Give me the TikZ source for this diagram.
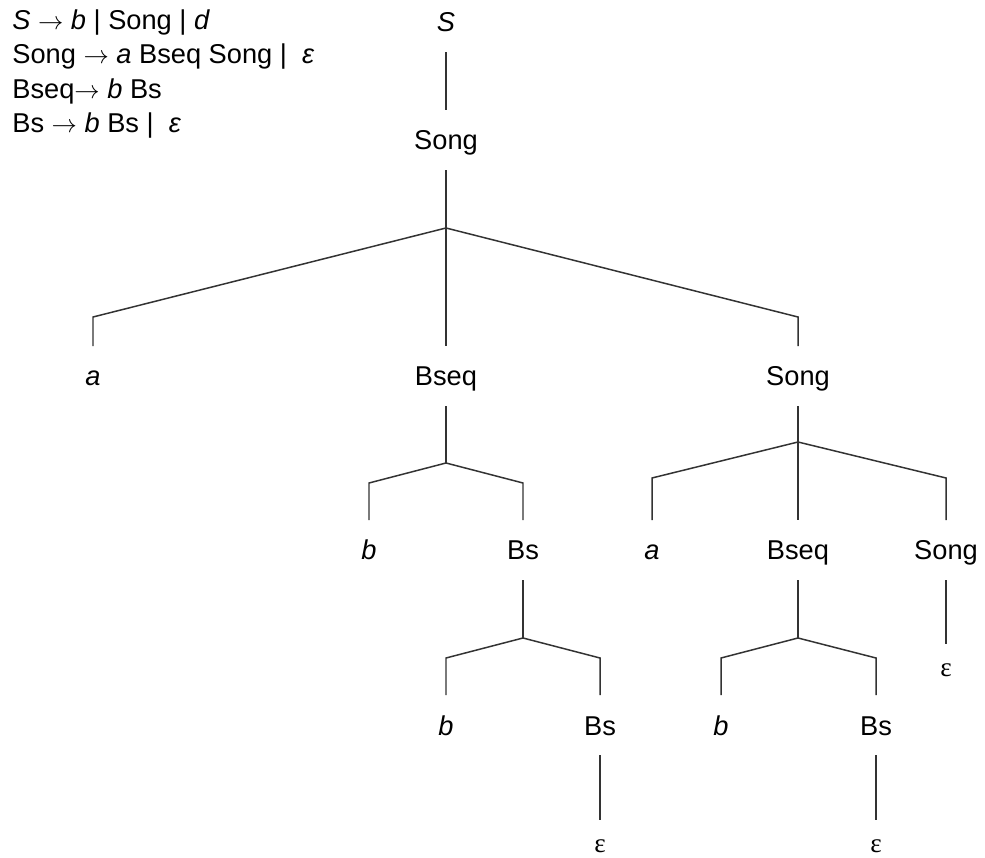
\documentclass[tikz,border=0pt]{standalone}
\usepackage{fontspec}
\setmainfont{Liberation Sans}
\newfontfamily\epsfont{Liberation Serif}

\tikzset{
    sym/.style={anchor=base, inner xsep=0pt, inner ysep=0.4cm, text height=0.39cm, text depth=0pt,
                font=\fontsize{15.5}{18}\selectfont},
    eps/.style={sym, inner ysep=0.04cm, text height=0.6cm, font=\fontsize{15.5}{18}\selectfont\epsfont},
    rule/.style={anchor=base west, inner sep=0pt, font=\fontsize{15.5}{18}\selectfont},
    branch/.style={draw=black!80, line width=0.85pt},
}

\begin{document}
\begin{tikzpicture}[x=0.02cm, y=-0.02cm]
    \useasboundingbox (0,0) rectangle (985,858);

    % Grammar
    \foreach \n/\y/\txt in {1/30/{\textit{S} $\rightarrow$ \textit{b} | Song | \textit{d}},
                            2/64/{Song $\rightarrow$ \textit{a} Bseq Song | ~\textit{ε}},
                            3/99/{Bseq$\rightarrow$ \textit{b} Bs},
                            4/133/{Bs $\rightarrow$ \textit{b} Bs | ~\textit{ε}}} {
        \node[rule] (g\n) at (12,\y) {\txt};
    }

    % Parse tree
    \node[sym] (S) at (446,32) {\textit{S}};
    \node[sym] (song) at (446,150) {Song};

    \node[sym] (a1) at (93,386) {\textit{a}};
    \node[sym] (bseq1) at (446,386) {Bseq};
    \node[sym] (song2) at (798,386) {Song};

    \node[sym] (b1) at (369,560) {\textit{b}};
    \node[sym] (bs1) at (523,560) {Bs};
    \node[sym] (a2) at (652,560) {\textit{a}};
    \node[sym] (bseq2) at (798,560) {Bseq};
    \node[sym] (song3) at (946,560) {Song};

    \node[sym] (b2) at (446,735) {\textit{b}};
    \node[sym] (bs2) at (600,735) {Bs};
    \node[sym] (b3) at (721,735) {\textit{b}};
    \node[sym] (bs3) at (876,735) {Bs};

    \node[eps] (e1) at (600,852) {ε};
    \node[eps] (e2) at (946,676) {ε};
    \node[eps] (e3) at (876,852) {ε};

    % Junctions and corner levels
    \coordinate (j0) at (446,228); \coordinate (k0) at (0,317);
    \coordinate (j1) at (446,463); \coordinate (k1) at (0,483);
    \coordinate (j2) at (798,442); \coordinate (k2) at (0,478);
    \coordinate (j3) at (523,638); \coordinate (k3) at (0,658);
    \coordinate (j4) at (798,638); \coordinate (k4) at (0,658);

    % Single children
    \foreach \p/\c in {S/song, bs2/e1, song3/e2, bs3/e3} {
        \draw[branch] (\p.south) -- (\c.north);
    }

    % Parent to junction
    \foreach \p/\j in {song/j0, bseq1/j1, song2/j2, bs1/j3, bseq2/j4} {
        \draw[branch] (\p.south) -- (\j);
    }
    \draw[branch] (j0) -- (bseq1.north);
    \draw[branch] (j2) -- (bseq2.north);

    % Junction to side children
    \foreach \j/\k/\c in {j0/k0/a1, j0/k0/song2, j1/k1/b1, j1/k1/bs1,
                          j2/k2/a2, j2/k2/song3, j3/k3/b2, j3/k3/bs2,
                          j4/k4/b3, j4/k4/bs3} {
        \draw[branch] (\j) -- (\c.north |- \k) -- (\c.north);
    }
\end{tikzpicture}
\end{document}
